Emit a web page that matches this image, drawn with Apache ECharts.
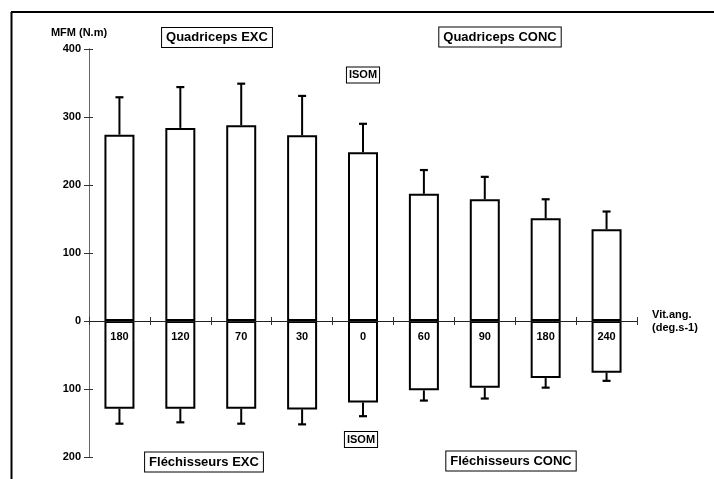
<!DOCTYPE html>
<html>
<head>
<meta charset="utf-8">
<script src="https://cdn.jsdelivr.net/npm/echarts@6/dist/echarts.min.js"></script>
<style>
  html, body { margin: 0; padding: 0; background: #fff; }
  #chart { width: 714px; height: 479px; }
</style>
</head>
<body>
<div id="chart"></div>
<script>
// Angular velocity (deg.s-1) for each test condition
const categories = ['180', '120', '70', '30', '0', '60', '90', '180', '240'];
// Peak torque (N.m), mean and standard deviation
const quadricepsMean = [274, 284, 288, 273, 248, 187, 179, 151, 135];
const quadricepsSD   = [55, 60, 61, 58, 42, 35, 33, 28, 26];
const flechisseursMean = [129, 129, 129, 130, 120, 102, 98, 84, 76];
const flechisseursSD   = [22, 20, 22, 22, 20, 15, 16, 14, 12];
// Value-axis tick labels (absolute torque)
const yTicks = [-200, -100, 0, 100, 200, 300, 400];

const FONT = 'Liberation Sans, Arial, sans-serif';
const chart = echarts.init(document.getElementById('chart'));

// Error bar: vertical stem from the bar end plus a horizontal cap
function errorBar(params, api) {
  const idx = api.value(0);
  const start = api.coord([idx, api.value(1)]);
  const end = api.coord([idx, api.value(2)]);
  const half = 4;
  return {
    type: 'group',
    children: [
      { type: 'line', shape: { x1: start[0], y1: start[1], x2: end[0], y2: end[1] },
        style: { stroke: '#000', lineWidth: 2 } },
      { type: 'line', shape: { x1: end[0] - half, y1: end[1], x2: end[0] + half, y2: end[1] },
        style: { stroke: '#000', lineWidth: 2.2 } }
    ]
  };
}

const upData = quadricepsMean.map((v, i) => [i, v, v + quadricepsSD[i]]);
const downData = flechisseursMean.map((v, i) => [i, -v, -(v + flechisseursSD[i])]);

function boxText(text, x, y, size) {
  return {
    type: 'text', x: x, y: y, z: 20,
    style: {
      text: text, font: 'bold ' + size + 'px ' + FONT, fill: '#000',
      align: 'center', verticalAlign: 'middle',
      backgroundColor: '#fff', borderColor: '#000', borderWidth: 1,
      padding: size > 12 ? [3, 4, 3, 4] : [2, 2, 2, 2]
    }
  };
}

const axisLabelStyle = { fontFamily: FONT, fontWeight: 'bold', fontSize: 11, color: '#000' };

chart.setOption({
  animation: false,
  backgroundColor: '#fff',
  grid: { left: 89, right: 77, top: 49, bottom: 22, containLabel: false },
  xAxis: [
    {
      type: 'category', data: categories, position: 'bottom', z: 10,
      axisLine: { onZero: true, lineStyle: { color: '#222', width: 1.2 } },
      axisTick: { show: true, length: 4, lineStyle: { color: '#333' } },
      axisLabel: { show: false },
      name: 'Vit.ang.\n(deg.s-1)', nameLocation: 'end', nameGap: 15,
      nameTextStyle: Object.assign({ align: 'left', verticalAlign: 'middle', lineHeight: 13,
        padding: [0, 0, 10, 0] }, axisLabelStyle),
      splitLine: { show: false }
    },
    {
      type: 'category', data: categories, position: 'top', z: 10,
      axisLine: { onZero: true, lineStyle: { color: '#222', width: 1.2 } },
      axisTick: { show: true, length: 4, lineStyle: { color: '#333' } },
      axisLabel: { show: false }
    }
  ],
  yAxis: [
    {
      type: 'value', min: -200, max: 400, interval: 100, position: 'left',
      axisLine: { show: true, lineStyle: { color: '#666', width: 1 } },
      axisTick: { show: true, length: 5, lineStyle: { color: '#333' } },
      axisLabel: Object.assign({ margin: 8, formatter: v => yTicks.indexOf(v) >= 0 ? String(Math.abs(v)) : '' }, axisLabelStyle),
      splitLine: { show: false },
      name: 'MFM (N.m)', nameLocation: 'end', nameGap: 11,
      nameTextStyle: Object.assign({ align: 'center', padding: [0, 20, 0, 0] }, axisLabelStyle)
    },
    {
      // short inward ticks so each value tick crosses the axis line
      type: 'value', min: -200, max: 400, interval: 100, position: 'left', show: true,
      axisLine: { show: true, lineStyle: { color: '#666', width: 1 } },
      axisTick: { show: true, inside: true, length: 4, lineStyle: { color: '#333' } },
      axisLabel: { show: false },
      splitLine: { show: false }
    }
  ],
  series: [
    {
      name: 'Quadriceps', type: 'bar', stack: 'mfm', barWidth: 30, z: 2,
      data: quadricepsMean,
      itemStyle: { color: '#fff', borderColor: '#000', borderWidth: 2 }
    },
    {
      name: 'Fléchisseurs', type: 'bar', stack: 'mfm', barWidth: 30, z: 2,
      data: flechisseursMean.map(v => -v),
      itemStyle: { color: '#fff', borderColor: '#000', borderWidth: 2 },
      // angular velocity written just under the zero line inside each bar
      label: Object.assign({ show: true, position: 'insideTop', distance: 10,
        formatter: p => p.name }, axisLabelStyle)
    },
    {
      name: 'Quadriceps SD', type: 'custom', renderItem: errorBar, z: 3,
      encode: { x: 0, y: [1, 2] }, data: upData
    },
    {
      name: 'Fléchisseurs SD', type: 'custom', renderItem: errorBar, z: 3,
      encode: { x: 0, y: [1, 2] }, data: downData
    }
  ],
  graphic: [
    // page frame (left and top rules)
    { type: 'line', shape: { x1: 11.5, y1: 12, x2: 11.5, y2: 479 }, style: { stroke: '#000', lineWidth: 2 } },
    { type: 'line', shape: { x1: 11, y1: 12, x2: 714, y2: 12 }, style: { stroke: '#000', lineWidth: 2 } },
    boxText('Quadriceps EXC', 217, 37.5, 13),
    boxText('Quadriceps CONC', 500, 37, 13),
    boxText('ISOM', 363, 75, 11),
    boxText('ISOM', 361, 439.5, 11),
    boxText('Fléchisseurs EXC', 204, 462, 13),
    boxText('Fléchisseurs CONC', 511, 461, 13)
  ]
});
</script>
</body>
</html>
